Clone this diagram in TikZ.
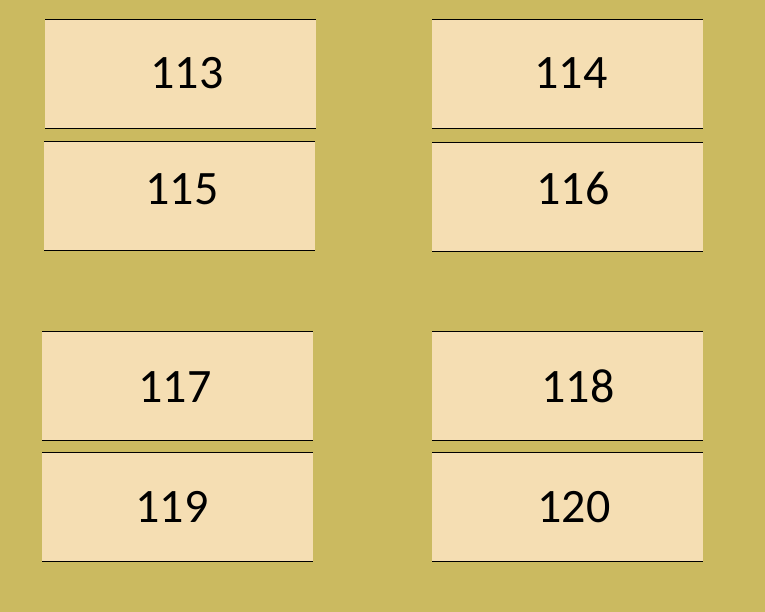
\documentclass[tikz,border=0pt]{standalone}
\usepackage{fontspec}
\setmainfont{Carlito}
\definecolor{hgrund}{RGB}{203,186,96}
\definecolor{kasten}{RGB}{245,222,179}
\begin{document}
\begin{tikzpicture}[x=1pt, y=-1pt,
    kst/.style={fill=kasten, minimum width=271pt, minimum height=109pt, inner sep=0pt, anchor=north west},
    zahl/.style={font=\fontsize{48}{52}\selectfont, anchor=base, inner sep=0pt}]
  % Hintergrund
  \fill[hgrund] (0,0) rectangle (765,612);
  \useasboundingbox (0,0) rectangle (765,612);
  % Kaesten: Nummer / links / oben / Textmitte / Grundlinie
  \foreach \n/\x/\y/\tx/\ty in {113/45/19/187/89, 114/432/19/571/89,
      115/44/141/182/205, 116/432/142/573/205,
      117/42/331/175/402, 118/432/331/578/402,
      119/42/452/172/522, 120/432/452/574/522}{
    \node[kst] (k\n) at (\x,\y) {};
    \draw[line width=0.8pt] (k\n.north west) -- (k\n.north east) (k\n.south west) -- (k\n.south east);
    \node[zahl] (t\n) at (\tx,\ty) {\n};
  }
\end{tikzpicture}
\end{document}
